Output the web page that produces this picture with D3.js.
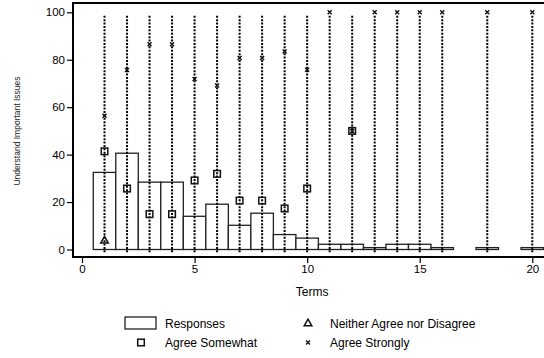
<!DOCTYPE html>
<html>
<head>
<meta charset="utf-8">
<script src="https://cdn.jsdelivr.net/npm/d3@7"></script>
<style>
  html, body { margin: 0; padding: 0; background: #fff; }
  svg { display: block; font-family: "Liberation Sans", Arial, Helvetica, sans-serif; }
</style>
</head>
<body>
<svg id="chart" width="544" height="358"></svg>
<script>
// Terms with responses, and the share of responses per term
const terms = [1, 2, 3, 4, 5, 6, 7, 8, 9, 10, 11, 12, 13, 14, 15, 16, 18, 20];
const responses = [32.5, 40.6, 28.4, 28.4, 14.0, 19.1, 10.2, 15.3, 6.3, 4.8, 2.2, 2.2, 0.8, 2.2, 2.2, 0.8, 0.8, 0.8];

// Agreement levels by term
const agreeStronglyTerms = [1, 2, 3, 4, 5, 6, 7, 8, 9, 10, 11, 12, 13, 14, 15, 16, 18, 20];
const agreeStrongly = [56.4, 75.7, 86.5, 86.5, 71.9, 69.1, 80.7, 80.7, 83.5, 75.8, 100, 50, 100, 100, 100, 100, 100, 100];
const agreeSomewhatTerms = [1, 2, 3, 4, 5, 6, 7, 8, 9, 10, 12];
const agreeSomewhat = [41.4, 25.7, 14.9, 14.9, 29.1, 31.9, 20.6, 20.6, 17.3, 25.7, 50];
const neitherTerms = [1];
const neither = [3.9];

// Spike range drawn at every term
const spikeRange = [-1.2, 98.6];

const xTicks = [0, 5, 10, 15, 20];
const yTicks = [0, 20, 40, 60, 80, 100];

const svg = d3.select("#chart");
const x = d3.scaleLinear().domain([0, 20]).range([82, 532.3]);
const y = d3.scaleLinear().domain([0, 100]).range([249.5, 12.3]);

const frame = { left: 73, top: 3, bottom: 257, right: 546 };
const ink = "#000";

// Histogram of responses
svg.append("g").selectAll("rect")
  .data(terms.map((t, i) => ({ t, v: responses[i] })))
  .join("rect")
  .attr("x", d => x(d.t - 0.5))
  .attr("width", d => x(d.t + 0.5) - x(d.t - 0.5))
  .attr("y", d => y(d.v))
  .attr("height", d => y(0) - y(d.v))
  .attr("fill", "#fff")
  .attr("stroke", "#222")
  .attr("stroke-width", 1.3);

// Dotted spikes
svg.append("g").selectAll("line")
  .data(terms)
  .join("line")
  .attr("x1", d => x(d)).attr("x2", d => x(d))
  .attr("y1", y(spikeRange[0])).attr("y2", y(spikeRange[1]))
  .attr("stroke", ink)
  .attr("stroke-width", 2)
  .attr("stroke-dasharray", "2,1.4");

// Marker shapes
function square(g, cx, cy) {
  g.append("rect").attr("x", cx - 3.3).attr("y", cy - 3.3).attr("width", 6.6).attr("height", 6.6)
    .attr("fill", "none").attr("stroke", "#111").attr("stroke-width", 1.5);
}
function triangle(g, cx, cy) {
  const s = 3.8;
  g.append("path").attr("d", `M${cx},${cy - s}L${cx + s},${cy + s * 0.75}L${cx - s},${cy + s * 0.75}Z`)
    .attr("fill", "none").attr("stroke", "#111").attr("stroke-width", 1.5);
}
function cross(g, cx, cy) {
  const s = 2;
  g.append("path").attr("d", `M${cx - s},${cy - s}L${cx + s},${cy + s}M${cx - s},${cy + s}L${cx + s},${cy - s}`)
    .attr("stroke", "#111").attr("stroke-width", 1.4);
}

const marks = svg.append("g");
agreeSomewhatTerms.forEach((t, i) => square(marks, x(t), y(agreeSomewhat[i])));
neitherTerms.forEach((t, i) => triangle(marks, x(t), y(neither[i])));
agreeStronglyTerms.forEach((t, i) => cross(marks, x(t), y(agreeStrongly[i])));

// Frame
svg.append("path")
  .attr("d", `M${frame.right},${frame.top}H${frame.left}V${frame.bottom}H${frame.right}`)
  .attr("fill", "none").attr("stroke", ink).attr("stroke-width", 2);

// Y axis
const yAxis = svg.append("g").attr("transform", `translate(${frame.left - 1},0)`)
  .call(d3.axisLeft(y).tickValues(yTicks).tickSize(5).tickPadding(2));
yAxis.select(".domain").remove();
yAxis.selectAll("line").attr("stroke", ink).attr("stroke-width", 1.2);
yAxis.selectAll("text").attr("font-size", 11.5).attr("fill", ink).attr("font-family", "Liberation Sans, Arial, sans-serif");

// X axis
const xAxis = svg.append("g").attr("transform", `translate(0,${frame.bottom + 1})`)
  .call(d3.axisBottom(x).tickValues(xTicks).tickSize(5).tickPadding(2));
xAxis.select(".domain").remove();
xAxis.selectAll("line").attr("stroke", ink).attr("stroke-width", 1.2);
xAxis.selectAll("text").attr("font-size", 11.5).attr("fill", ink).attr("font-family", "Liberation Sans, Arial, sans-serif");

// Axis titles
svg.append("text").attr("x", x(10) + 5).attr("y", 296)
  .attr("text-anchor", "middle").attr("font-size", 12).text("Terms");
svg.append("text")
  .attr("transform", `translate(20,131) rotate(-90)`)
  .attr("text-anchor", "middle").attr("font-size", 8.5).attr("fill", "#222")
  .text("Understand Important Issues");

// Legend
const lg = svg.append("g").attr("font-size", 12);
lg.append("rect").attr("x", 125).attr("y", 317).attr("width", 31).attr("height", 12)
  .attr("fill", "#fff").attr("stroke", "#222").attr("stroke-width", 1.3);
lg.append("text").attr("x", 165).attr("y", 327.5).text("Responses");
square(lg, 141, 342.5);
lg.append("text").attr("x", 165).attr("y", 347).text("Agree Somewhat");
triangle(lg, 308, 323);
lg.append("text").attr("x", 330).attr("y", 327.5).text("Neither Agree nor Disagree");
cross(lg, 308, 342.5);
lg.append("text").attr("x", 330).attr("y", 347).text("Agree Strongly");
</script>
</body>
</html>
